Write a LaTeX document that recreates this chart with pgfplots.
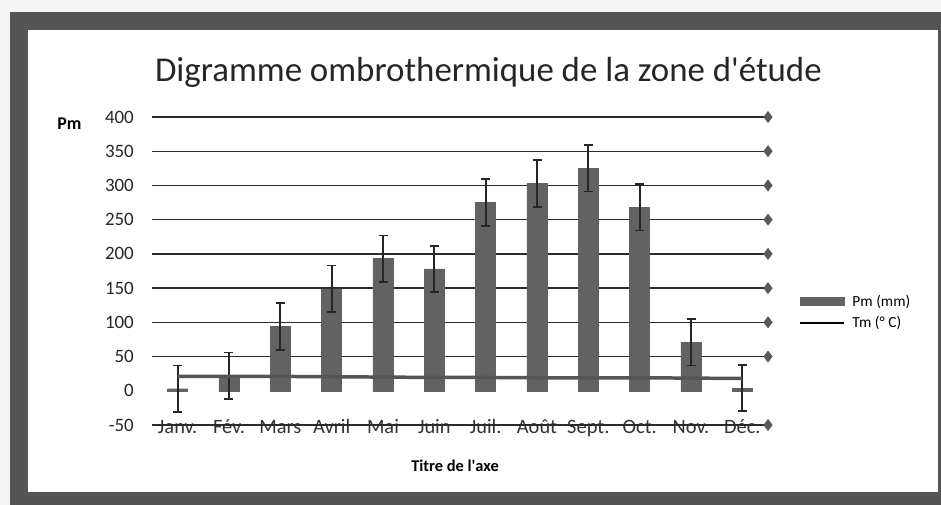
\documentclass[border=0pt]{standalone}
\usepackage{pgfplots}
\pgfplotsset{compat=1.18}
\usepackage{fontspec}
\setmainfont{Carlito}
\definecolor{barcol}{HTML}{626262}
\definecolor{framecol}{HTML}{555555}
\definecolor{tmcol}{HTML}{555555}
\definecolor{gridcol}{HTML}{2A2A2A}
\begin{document}
\begin{tikzpicture}
\useasboundingbox (-152bp,-80bp) rectangle (789bp,425bp);
\fill[white!96!black] (-152bp,-80bp) rectangle (789bp,425bp);
\fill[framecol] (-142bp,-80bp) rectangle (789bp,413bp);
\fill[white] (-124bp,-67bp) rectangle (786bp,395bp);
\begin{axis}[
  at={(0,0)}, anchor=south west,
  scale only axis, width=616bp, height=308bp,
  xmin=-0.5, xmax=11.5, ymin=-50, ymax=400,
  clip=false,
  axis line style={draw=none},
  major tick length=0pt,
  xtick={0,1,2,3,4,5,6,7,8,9,10,11},
  xticklabels={Janv.,Fév.,Mars,Avril,Mai,Juin,Juil.,Août,Sept.,Oct.,Nov.,Déc.},
  ytick={-50,0,50,100,150,200,250,300,350,400},
  /pgf/number format/assume math mode=true,
  yticklabel style={font=\fontsize{19}{22}\selectfont, anchor=east, inner sep=0pt, xshift=-18bp, text=black!85},
  xticklabel style={font=\fontsize{20.5}{24}\selectfont, anchor=center, inner sep=0pt,
    text height=0.62em, text depth=0.2em, yshift=-6bp, text=black!80},
  title={Digramme ombrothermique de la zone d\textquotesingle étude},
  title style={font=\fontsize{35}{40}\selectfont, at={(axis description cs:0.546,1.095)}, anchor=base, inner sep=0pt, text=black!85},
  ylabel={Pm},
  ylabel style={font=\bfseries\fontsize{18}{22}\selectfont, rotate=-90, at={(axis description cs:-0.134,0.977)}, anchor=center, inner sep=0pt},
  xlabel={Titre de l\textquotesingle axe},
  xlabel style={font=\bfseries\fontsize{16.5}{20}\selectfont, at={(axis description cs:0.492,-0.133)}, anchor=center, inner sep=0pt},
  legend style={draw=none, fill=none, at={(1.05,0.43)}, anchor=north west,
    font=\fontsize{15.5}{18}\selectfont, row sep=5bp, inner sep=0pt,
    nodes={inner sep=2bp}},
  legend cell align=left,
]
% horizontal lines with diamond end markers
\pgfplotsinvokeforeach{-50,50,100,150,200,250,300,350,400}{
  \addplot[gridcol, line width=1.3pt, mark=diamond*, mark indices={2}, mark size=5bp,
    mark options={fill=black!65, draw=black!65}, forget plot] coordinates {(-0.5,#1) (11.5,#1)};
}
\addplot[ybar, bar width=0.39, fill=barcol, draw=barcol,
  legend image code/.code={\fill[barcol] (0bp,-4bp) rectangle (44bp,4bp); \path (49bp,0bp);},
  error bars/.cd, y dir=both, y explicit,
  error bar style={line width=1.7pt, black!85},
  error mark options={rotate=90, mark size=4.5bp, line width=1.7pt, black!85}]
  coordinates {
  (0,3) +- (0,34)
  (1,22) +- (0,34)
  (2,94) +- (0,34)
  (3,149) +- (0,34)
  (4,193) +- (0,34)
  (5,178) +- (0,34)
  (6,275) +- (0,34)
  (7,303) +- (0,34)
  (8,325) +- (0,34)
  (9,268) +- (0,34)
  (10,71) +- (0,34)
  (11,4) +- (0,34)
  };
\addplot[tmcol, line width=3.5pt,
  legend image code/.code={\draw[black, line width=1.5pt] (0bp,0bp) -- (44bp,0bp); \path (49bp,0bp);}]
  coordinates {
  (0,21) (1,21) (2,21) (3,20.5) (4,20) (5,19.5) (6,19.5) (7,19) (8,19) (9,19) (10,18.5) (11,18)
  };
\legend{Pm (mm),Tm (° C)}
\end{axis}
\end{tikzpicture}
\end{document}
